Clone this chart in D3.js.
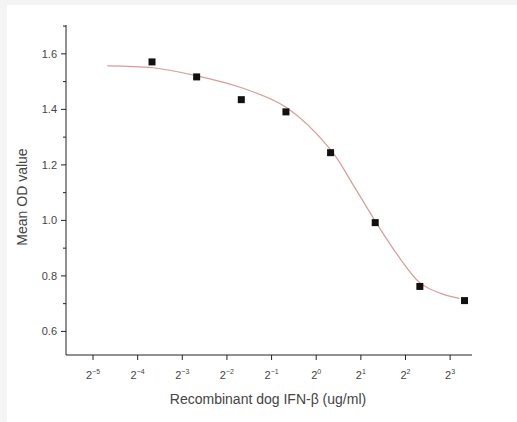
<!DOCTYPE html>
<html>
<head>
<meta charset="utf-8">
<script src="https://cdn.jsdelivr.net/npm/d3@7"></script>
<style>
  body { margin: 0; background: #f4f4f4; }
  svg { display: block; }
</style>
</head>
<body>
<svg></svg>
<script>
const width = 517;
const height = 422;
const svg = d3.select("svg").attr("width", width).attr("height", height);

// measured points: concentration (ug/ml) and mean OD
const concentrations = [0.078125, 0.15625, 0.3125, 0.625, 1.25, 2.5, 5, 10];
const meanOD = [1.571, 1.517, 1.435, 1.391, 1.244, 0.992, 0.762, 0.711];

// fitted curve
const fitConc = [0.039, 0.079, 0.157, 0.314, 0.633, 1.25, 1.77, 2.51, 3.56, 5.06, 6.9, 9.25];
const fitOD = [1.557, 1.55, 1.521, 1.478, 1.406, 1.255, 1.129, 0.996, 0.873, 0.773, 0.737, 0.719];

const xTickExps = [-5, -4, -3, -2, -1, 0, 1, 2, 3];
const yMajor = [0.6, 0.8, 1.0, 1.2, 1.4, 1.6];
const yMinor = [0.7, 0.9, 1.1, 1.3, 1.5, 1.7];

const plotLeft = 66, plotRight = 472, plotTop = 25, plotBottom = 355;

// white panel on grey frame
svg.append("rect").attr("width", width).attr("height", height).attr("fill", "#f4f4f4");
svg.append("rect").attr("x", 7).attr("y", 5).attr("width", width - 7).attr("height", height - 5).attr("fill", "#fff");

const x = d3.scaleLog().base(2)
  .domain([Math.pow(2, -5.605), Math.pow(2, 3.49)])
  .range([plotLeft, plotRight]);
const y = d3.scaleLinear().domain([0.515, 1.704]).range([plotBottom, plotTop]);

const axisColor = "#222";
const textColor = "#444";
const font = "Liberation Sans, Arial, sans-serif";

// y axis
const yAxis = svg.append("g").attr("transform", `translate(${plotLeft},0)`);
yAxis.append("line")
  .attr("y1", plotTop).attr("y2", plotBottom)
  .attr("stroke", axisColor);
yAxis.selectAll(".major")
  .data(yMajor)
  .enter()
  .append("line")
  .attr("class", "major")
  .attr("x1", -5).attr("x2", 0)
  .attr("y1", (d) => y(d)).attr("y2", (d) => y(d))
  .attr("stroke", axisColor);
yAxis.selectAll(".minor")
  .data(yMinor)
  .enter()
  .append("line")
  .attr("class", "minor")
  .attr("x1", -3).attr("x2", 0)
  .attr("y1", (d) => y(d)).attr("y2", (d) => y(d))
  .attr("stroke", axisColor);
yAxis.selectAll("text")
  .data(yMajor)
  .enter()
  .append("text")
  .attr("x", -9)
  .attr("y", (d) => y(d))
  .attr("dy", "0.35em")
  .attr("text-anchor", "end")
  .attr("font-family", font)
  .attr("font-size", "11px")
  .attr("fill", textColor)
  .text((d) => d.toFixed(1));

// x axis
const xAxis = svg.append("g").attr("transform", `translate(0,${plotBottom})`);
xAxis.append("line")
  .attr("x1", plotLeft).attr("x2", plotRight)
  .attr("stroke", axisColor);
xAxis.selectAll("line.tick")
  .data(xTickExps)
  .enter()
  .append("line")
  .attr("class", "tick")
  .attr("x1", (d) => x(Math.pow(2, d))).attr("x2", (d) => x(Math.pow(2, d)))
  .attr("y1", 0).attr("y2", 5)
  .attr("stroke", axisColor);
const xLabels = xAxis.selectAll("text")
  .data(xTickExps)
  .enter()
  .append("text")
  .attr("x", (d) => x(Math.pow(2, d)))
  .attr("y", 24)
  .attr("text-anchor", "middle")
  .attr("font-family", font)
  .attr("font-size", "11px")
  .attr("fill", textColor);
xLabels.append("tspan").text("2");
xLabels.append("tspan")
  .attr("dy", -5)
  .attr("font-size", "7px")
  .text((d) => (d < 0 ? "\u2212" : "") + Math.abs(d));

// axis titles
svg.append("text")
  .attr("x", 268)
  .attr("y", 404)
  .attr("text-anchor", "middle")
  .attr("font-family", font)
  .attr("font-size", "14px")
  .attr("fill", textColor)
  .text("Recombinant dog IFN-\u03b2 (ug/ml)");
svg.append("text")
  .attr("transform", "translate(27,197) rotate(-90)")
  .attr("text-anchor", "middle")
  .attr("font-family", font)
  .attr("font-size", "14px")
  .attr("fill", textColor)
  .text("Mean OD value");

// fitted curve
const fit = fitConc.map((c, i) => ({ c: c, v: fitOD[i] }));
svg.append("path")
  .datum(fit)
  .attr("fill", "none")
  .attr("stroke", "#d99a9a")
  .attr("stroke-width", 1.2)
  .attr("d", d3.line()
    .x((d) => x(d.c))
    .y((d) => y(d.v))
    .curve(d3.curveCatmullRom));

// points
const pts = concentrations.map((c, i) => ({ c: c, v: meanOD[i] }));
const size = 7;
svg.append("g")
  .selectAll("rect")
  .data(pts)
  .enter()
  .append("rect")
  .attr("x", (d) => x(d.c) - size / 2)
  .attr("y", (d) => y(d.v) - size / 2)
  .attr("width", size)
  .attr("height", size)
  .attr("fill", "#111");
</script>
</body>
</html>
